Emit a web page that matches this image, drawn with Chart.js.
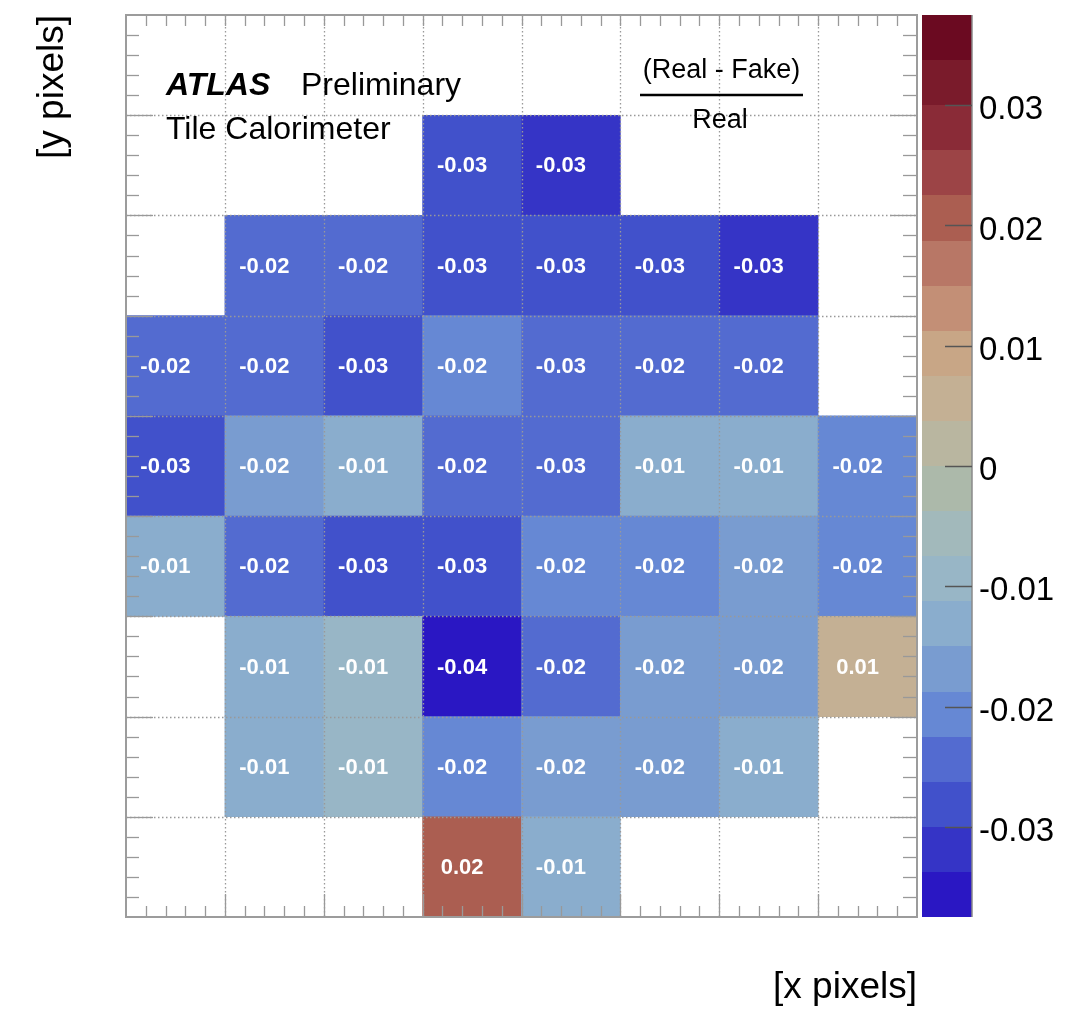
<!DOCTYPE html>
<html>
<head>
<meta charset="utf-8">
<title>Tile Calorimeter (Real - Fake) / Real</title>
<script src="https://cdn.jsdelivr.net/npm/chart.js@4.4.1/dist/chart.umd.min.js"></script>
<style>
  html, body { margin: 0; padding: 0; background: #ffffff; }
  #wrap { width: 1082px; height: 1010px; }
</style>
</head>
<body>
<div id="wrap"><canvas id="map" width="1082" height="1010"></canvas></div>
<script>
// Pixel columns along x and number of y bins (the top bin is left empty).
const columns = ['1', '2', '3', '4', '5', '6', '7', '8'];
const yBinCount = 9;

// (Real - Fake) / Real per cell, one array per y bin, left to right; null = no cell.
const rowY7 = [null, null, null, -0.028, -0.032, null, null, null];
const rowY6 = [null, -0.024, -0.023, -0.028, -0.027, -0.029, -0.032, null];
const rowY5 = [-0.024, -0.023, -0.028, -0.021, -0.0256, -0.024, -0.023, null];
const rowY4 = [-0.028, -0.017, -0.013, -0.024, -0.0256, -0.012, -0.013, -0.020];
const rowY3 = [-0.012, -0.024, -0.028, -0.029, -0.021, -0.020, -0.017, -0.021];
const rowY2 = [null, -0.013, -0.010, -0.036, -0.024, -0.017, -0.016, 0.006];
const rowY1 = [null, -0.012, -0.009, -0.021, -0.017, -0.016, -0.013, null];
const rowY0 = [null, null, null, 0.020, -0.012, null, null, null];

// Colour axis range and its labelled ticks.
const zMin = -0.0375;
const zMax = 0.0375;
const zTicks = [-0.03, -0.02, -0.01, 0, 0.01, 0.02, 0.03];

// Discrete colour levels, lowest first.
const palette = [
  '#2a17c3', '#3534c6', '#4151cb', '#536bd0', '#6688d4',
  '#799cd0', '#8aadcd', '#98b6c6', '#a2b9bb', '#acb9aa',
  '#b9b6a0', '#c4b094', '#c8a686', '#c38f76', '#b87766',
  '#ab5e51', '#9c4446', '#8a2b37', '#7a1b2b', '#6b0a21'
];

const rows = [rowY0, rowY1, rowY2, rowY3, rowY4, rowY5, rowY6, rowY7];
const FONT = "'Liberation Sans', Arial, Helvetica, sans-serif";
Chart.defaults.font.family = FONT;
Chart.defaults.color = '#000000';

function levelColor(v) {
  const n = palette.length;
  let i = Math.floor((v - zMin) / (zMax - zMin) * n);
  i = Math.max(0, Math.min(n - 1, i));
  return palette[i];
}

// One floating-bar dataset per y bin; each bar spans exactly one bin.
const datasets = rows.map((vals, bin) => ({
  label: 'y bin ' + bin,
  data: vals.map(v => (v === null ? null : [bin, bin + 1])),
  cellValues: vals,
  backgroundColor: vals.map(v => (v === null ? 'rgba(0,0,0,0)' : levelColor(v))),
  borderWidth: 0,
  grouped: false,
  barPercentage: 1,
  categoryPercentage: 1
}));

function seg(ctx, x0, y0, x1, y1) {
  ctx.beginPath();
  ctx.moveTo(x0, y0);
  ctx.lineTo(x1, y1);
  ctx.stroke();
}

// Grid, frame, tick marks, cell values, colour bar and annotations.
const decorations = {
  id: 'decorations',
  afterDatasetsDraw(chart) {
    const { ctx, chartArea: a, scales } = chart;
    const xs = scales.x, ys = scales.y, zs = scales.z;
    ctx.save();

    // dotted grid at bin edges
    ctx.strokeStyle = '#999999';
    ctx.lineWidth = 1.3;
    ctx.setLineDash([1.5, 2.5]);
    for (let i = 1; i < columns.length; i++) {
      const px = Math.round(xs.getPixelForValue(i - 0.5)) + 0.5;
      seg(ctx, px, a.top, px, a.bottom);
    }
    for (let b = 1; b < yBinCount; b++) {
      const py = Math.round(ys.getPixelForValue(b)) + 0.5;
      seg(ctx, a.left, py, a.right, py);
    }
    ctx.setLineDash([]);

    // tick marks on all four sides
    ctx.strokeStyle = '#999999';
    ctx.lineWidth = 1.3;
    const sub = 5;
    for (let i = 0; i < columns.length; i++) {
      for (let k = 0; k < sub; k++) {
        if (i === 0 && k === 0) continue;
        const px = Math.round(xs.getPixelForValue(i - 0.5 + k / sub)) + 0.5;
        const major = k === 0;
        seg(ctx, px, a.bottom, px, a.bottom - (major ? 23 : 11));
        seg(ctx, px, a.top, px, a.top + 11);
      }
    }
    for (let b = 0; b < yBinCount; b++) {
      for (let k = 0; k < sub; k++) {
        if (b === 0 && k === 0) continue;
        const py = Math.round(ys.getPixelForValue(b + k / sub)) + 0.5;
        const major = k === 0;
        seg(ctx, a.left, py, a.left + (major ? 27 : 13), py);
        seg(ctx, a.right, py, a.right - (major ? 27 : 14), py);
      }
    }

    // frame
    ctx.strokeStyle = '#9c9c9c';
    ctx.lineWidth = 2;
    ctx.strokeRect(a.left, a.top, a.right - a.left, a.bottom - a.top);

    // cell values
    ctx.fillStyle = '#ffffff';
    ctx.font = 'bold 22px ' + FONT;
    ctx.textAlign = 'center';
    ctx.textBaseline = 'middle';
    chart.data.datasets.forEach((ds, bin) => {
      ds.cellValues.forEach((v, c) => {
        if (v === null) return;
        const cx = xs.getPixelForValue(c) - 10;
        const cy = ys.getPixelForValue(bin + 0.5) + 1;
        ctx.fillText(v.toFixed(2), cx, cy);
      });
    });

    // colour bar
    const bx0 = zs.left + 5, bx1 = zs.left + 55;
    const step = (zMax - zMin) / palette.length;
    for (let i = 0; i < palette.length; i++) {
      const yTop = Math.round(zs.getPixelForValue(zMin + (i + 1) * step));
      const yBot = Math.round(zs.getPixelForValue(zMin + i * step));
      ctx.fillStyle = palette[i];
      ctx.fillRect(bx0, yTop, bx1 - bx0, yBot - yTop);
    }
    ctx.strokeStyle = '#8a8a8a';
    ctx.lineWidth = 1.5;
    seg(ctx, bx1, zs.getPixelForValue(zMax), bx1, zs.getPixelForValue(zMin));
    ctx.strokeStyle = '#555555';
    ctx.lineWidth = 1.5;
    zTicks.forEach(t => {
      const py = Math.round(zs.getPixelForValue(t)) + 0.5;
      seg(ctx, bx1 - 27, py, bx1, py);
    });

    // annotations
    ctx.fillStyle = '#000000';
    ctx.textAlign = 'left';
    ctx.textBaseline = 'alphabetic';
    ctx.font = 'italic bold 32px ' + FONT;
    ctx.fillText('ATLAS', a.left + 40, a.top + 80);
    ctx.font = '32px ' + FONT;
    ctx.fillText('Preliminary', a.left + 175, a.top + 80);
    ctx.fillText('Tile Calorimeter', a.left + 40, a.top + 124);

    ctx.textAlign = 'center';
    ctx.font = '27px ' + FONT;
    ctx.fillText('(Real - Fake)', 721.5, a.top + 63);
    ctx.lineWidth = 2.5;
    ctx.strokeStyle = '#000000';
    seg(ctx, 640, a.top + 80, 803, a.top + 80);
    ctx.fillText('Real', 720, a.top + 113);

    ctx.restore();
  }
};

new Chart(document.getElementById('map'), {
  type: 'bar',
  data: { labels: columns, datasets },
  options: {
    responsive: false,
    animation: false,
    events: [],
    layout: { padding: { top: 15, left: 0, right: 0, bottom: 0 } },
    plugins: { legend: { display: false }, tooltip: { enabled: false } },
    scales: {
      x: {
        type: 'category',
        offset: true,
        grid: { display: false, drawTicks: false },
        border: { display: false },
        ticks: { display: false },
        title: {
          display: true, text: '[x pixels]', align: 'end', color: '#000000',
          font: { size: 37 }, padding: { top: 0, bottom: 0 }
        },
        afterFit(s) { s.height = 93; s.paddingLeft = 0; s.paddingRight = 0; }
      },
      y: {
        type: 'linear',
        position: 'left',
        min: 0,
        max: yBinCount,
        grid: { display: false, drawTicks: false },
        border: { display: false },
        ticks: { display: false },
        title: {
          display: true, text: '[y pixels]', align: 'end', color: '#000000',
          font: { size: 37 }, padding: { top: 31, bottom: 0 }
        },
        afterFit(s) { s.width = 126; s.paddingTop = 0; s.paddingBottom = 0; }
      },
      z: {
        type: 'linear',
        position: 'right',
        min: zMin,
        max: zMax,
        grid: { display: false, drawTicks: false },
        border: { display: false },
        ticks: {
          color: '#000000',
          font: { size: 33 },
          padding: 62,
          labelOffset: 5,
          callback: v => (v === 0 ? '0' : Number(v).toFixed(2))
        },
        afterBuildTicks(s) { s.ticks = zTicks.map(v => ({ value: v })); },
        afterFit(s) { s.width = 165; s.paddingTop = 0; s.paddingBottom = 0; }
      }
    }
  },
  plugins: [decorations]
});
</script>
</body>
</html>
